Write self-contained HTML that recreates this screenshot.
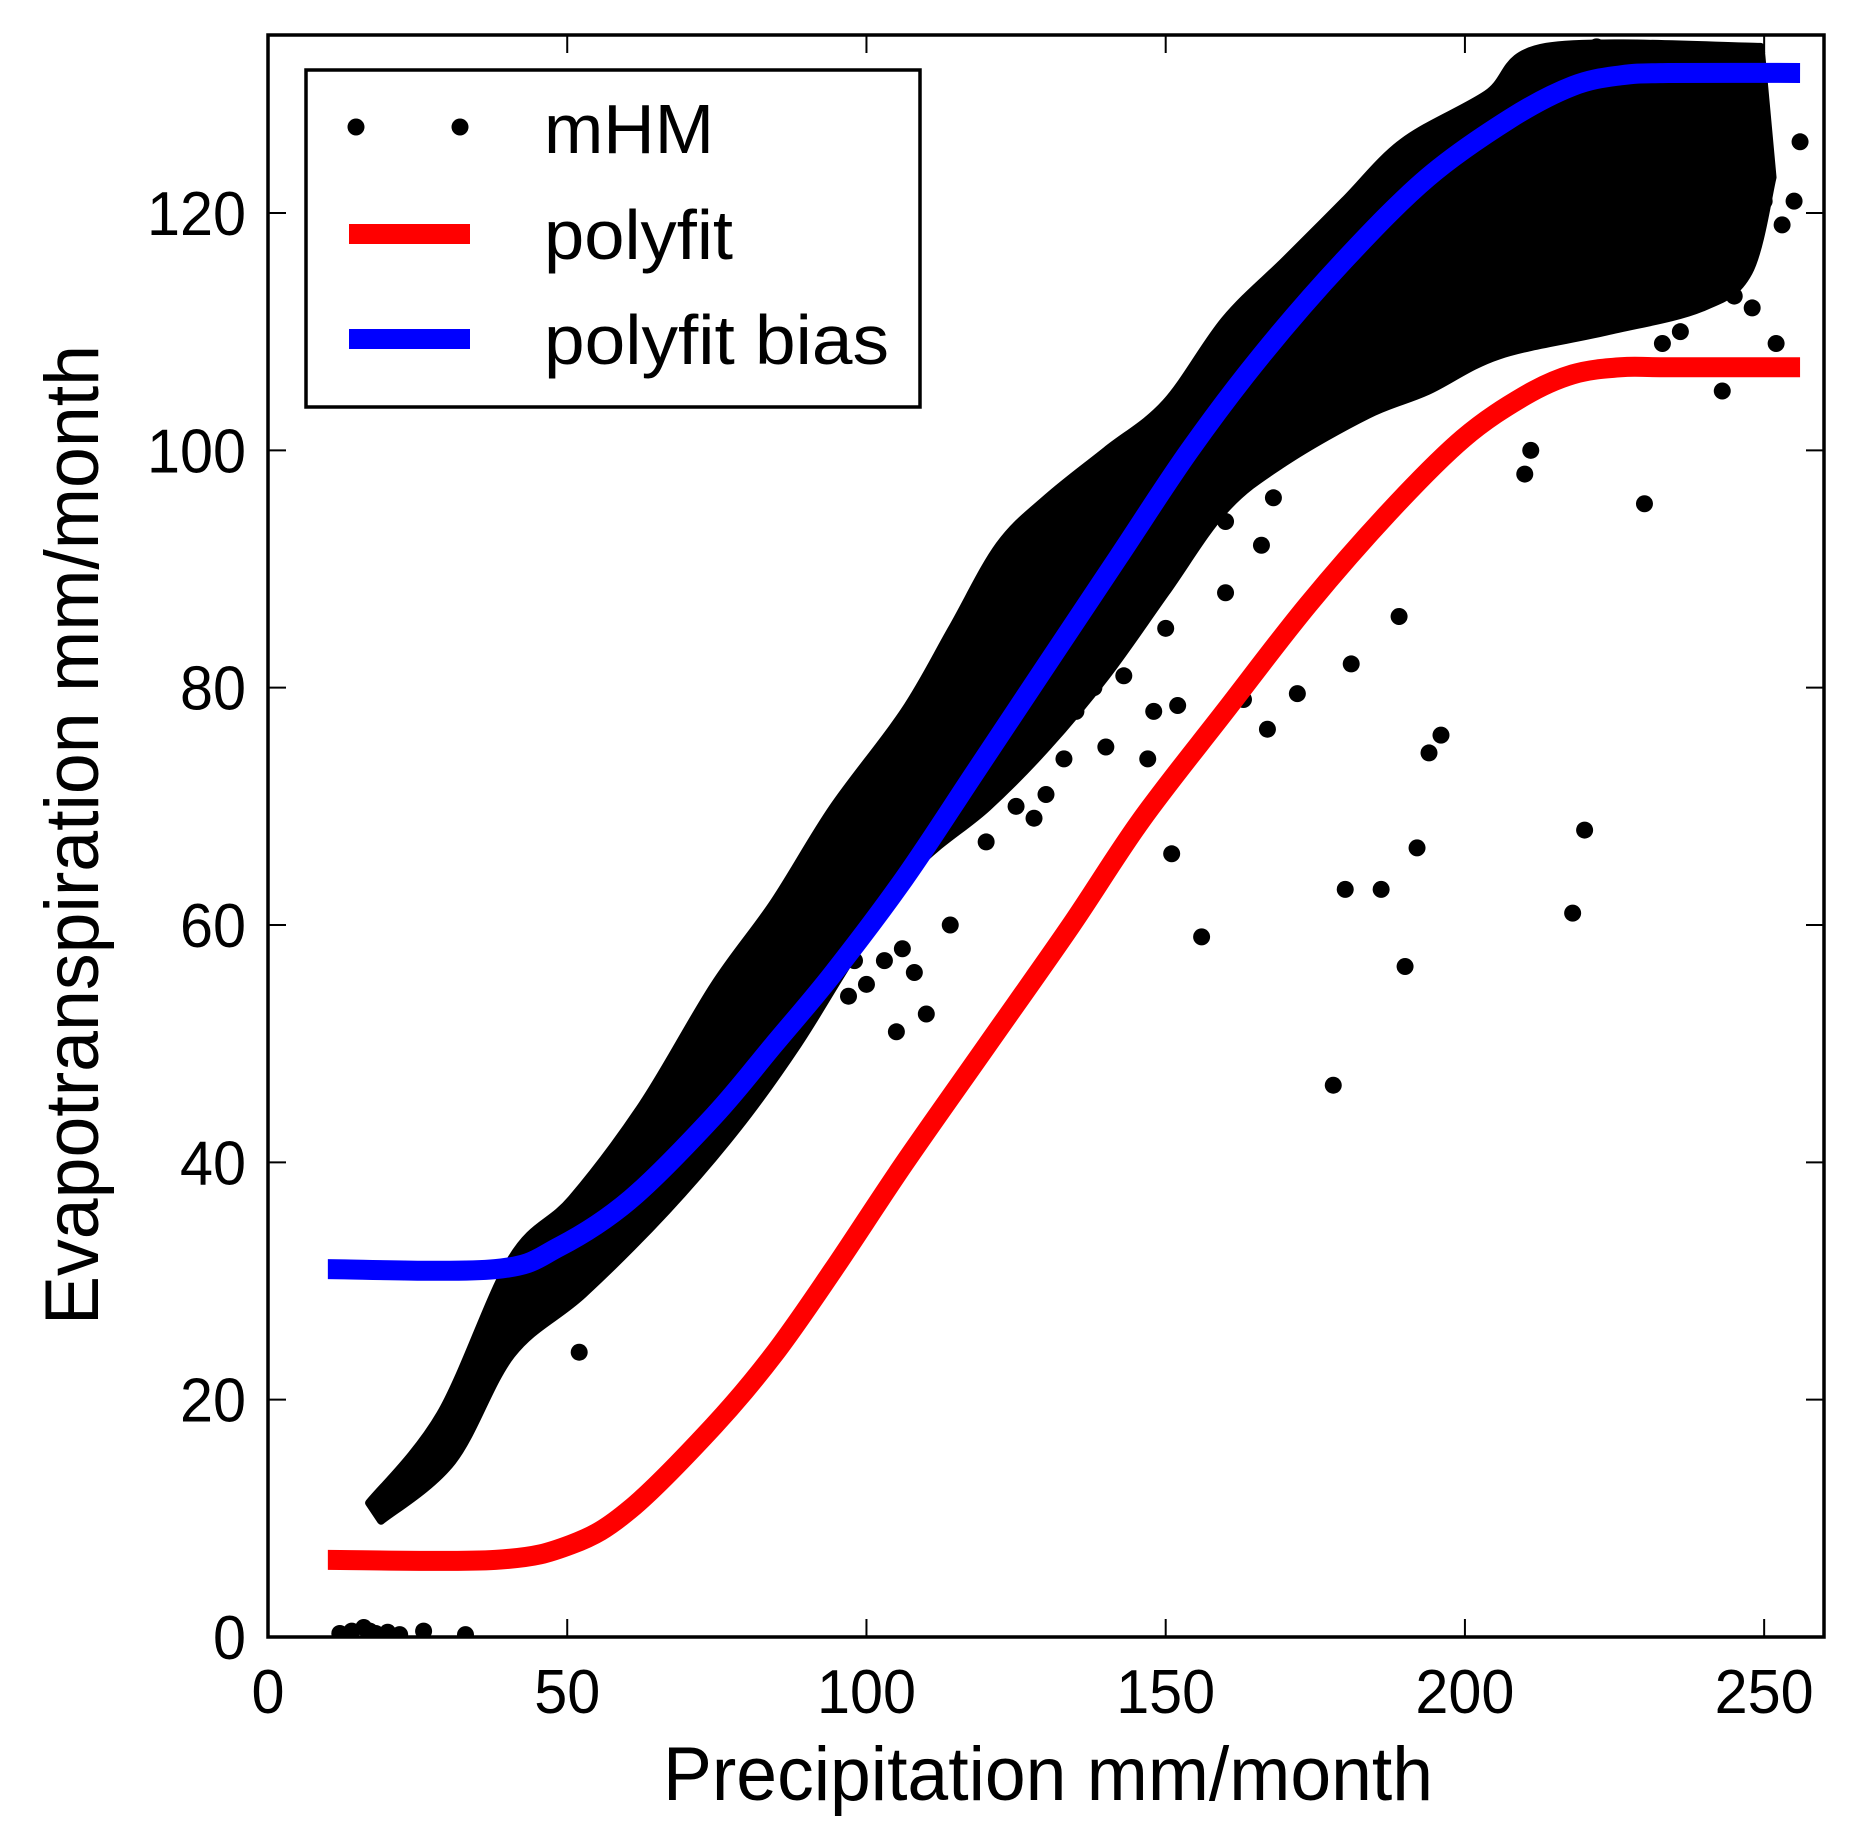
<!DOCTYPE html>
<html><head><meta charset="utf-8"><style>
html,body{margin:0;padding:0;background:#fff}
svg{display:block}
text{font-family:"Liberation Sans",Arial,sans-serif;fill:#000}
</style></head><body>
<svg id="chart" width="1862" height="1833" viewBox="0 0 1862 1833" xmlns="http://www.w3.org/2000/svg">
<g id="plot"></g>
</svg>
<script>
// ---- data ----
const xTicks = [0, 50, 100, 150, 200, 250];
const yTicks = [0, 20, 40, 60, 80, 100, 120];
const blueX = [10, 38, 48.7, 60.6, 74.5, 84.5, 94.4, 106.3, 118.2, 130.2, 142.1, 154, 166, 179.8, 193.8, 207.7, 218, 226, 234, 256];
const blueY = [31, 31, 32.9, 36.9, 43.9, 49.9, 55.9, 63.9, 72.9, 82, 91, 100, 108, 116, 123, 128, 130.7, 131.6, 131.8, 131.8];
const redX = [10, 38, 50.7, 60.6, 74.5, 84.5, 94.4, 106.3, 120.2, 134.1, 146, 159.9, 173.8, 187.7, 199.7, 210, 218, 226, 234, 256];
const redY = [6.5, 6.5, 7.8, 10.8, 17.8, 23.8, 30.9, 39.9, 49.9, 59.9, 68.9, 78, 87, 95, 101, 104.6, 106.4, 107, 107, 107];
// dense scatter cloud envelope
const upX = [16.9, 28.8, 40.7, 50.7, 62.6, 74.5, 84.5, 94.4, 106.3, 114.3, 122.2, 130.2, 140.1, 150, 159.9, 169.9, 179.8, 189.7, 203.6, 213.6, 249.4];
const upY = [11.3, 18.8, 31.9, 36.9, 44.9, 54.9, 61.9, 69.9, 78, 85, 92, 96, 100, 104, 111, 116, 121, 126, 130, 134, 134];
const loX = [18.9, 30.8, 40.7, 52.7, 66.6, 78.5, 88.5, 98.4, 108.3, 120.2, 130.2, 140.1, 150, 159.9, 169.9, 183.8, 193.8, 205.7, 223.6, 239.5, 247.4, 251.4];
const loY = [9.8, 14.8, 23.8, 28.9, 35.9, 42.9, 49.9, 57.9, 64.9, 69.9, 75, 81, 88, 95, 99, 103, 105, 108, 110, 112, 115, 123];
// individual scattered points
const ptX = [52,105,110,151,156,163,167,172,178,180,181,186,189,190,192,194,196,210,211,218,220,230,243,252,248,245,240,255,256,233,236,225,236,247,245,250,241,228,222,218,200,196,188,182,176,168,166,160,158,150,148,145,143,140,138,133,130,128,125,120,114,108,106,103,100,97,98,148,152,147,160,140,135,12,14,16,17,18,20,22,26,33,246,242,253,238,234,229,214,206];
const ptY = [24,51,52.5,66,59,79,76.5,79.5,46.5,63,82,63,86,56.5,66.5,74.5,76,98,100,61,68,95.5,105,109,112,113,117,121,126,109,110,111,114,125,133,121,127,133,134,133,109,110,108,105,102,96,92,94,100,85,89,93,81,83,80,74,71,69,70,67,60,56,58,57,55,54,57,78,78.5,74,88,75,78,0.3,0.5,0.8,0.5,0.3,0.4,0.2,0.5,0.2,120,115,119,114,118,112,116,113];

// ---- layout ----
const L = 268, R = 1824, T = 35, B = 1637;
const X0 = 0, X1 = 260, Y0 = 0, Y1 = 135;
const sx = v => L + (v - X0) / (X1 - X0) * (R - L);
const sy = v => B - (v - Y0) / (Y1 - Y0) * (B - T);
const NS = 'http://www.w3.org/2000/svg';
const plot = document.getElementById('plot');
function mk(tag, attrs, parent) {
  const e = document.createElementNS(NS, tag);
  for (const k in attrs) e.setAttribute(k, attrs[k]);
  (parent || plot).appendChild(e);
  return e;
}
function smoothSeg(P) {
  let d = '';
  for (let i = 0; i < P.length - 1; i++) {
    const p0 = P[Math.max(0, i - 1)], p1 = P[i], p2 = P[i + 1], p3 = P[Math.min(P.length - 1, i + 2)];
    const c1x = p1[0] + (p2[0] - p0[0]) / 6, c1y = p1[1] + (p2[1] - p0[1]) / 6;
    const c2x = p2[0] - (p3[0] - p1[0]) / 6, c2y = p2[1] - (p3[1] - p1[1]) / 6;
    d += ' C' + c1x + ',' + c1y + ' ' + c2x + ',' + c2y + ' ' + p2[0] + ',' + p2[1];
  }
  return d;
}
function smoothPath(P) { return 'M' + P[0][0] + ',' + P[0][1] + smoothSeg(P); }
const defs = mk('defs', {});
const cp = mk('clipPath', {id: 'clip'}, defs);
mk('rect', {x: L, y: T, width: R - L, height: B - T}, cp);
const data = mk('g', {'clip-path': 'url(#clip)'});



// scatter band
const up = upX.map((x, i) => [sx(x), sy(upY[i])]);
const lo = loX.map((x, i) => [sx(x), sy(loY[i])]).reverse();
const bd = smoothPath(up) + ' L' + lo[0][0] + ',' + lo[0][1] + smoothSeg(lo) + ' Z';
const band = mk('path', {d: bd, fill: '#000', stroke: '#000', 'stroke-width': 8, 'stroke-linejoin': 'round'}, data);


for (let i = 0; i < ptX.length; i++) {
  const c = mk('circle', {cx: sx(ptX[i]), cy: sy(ptY[i]), r: 8.5, fill: '#000'}, data);
  
  
}
function line(xs, ys, color, name) {
  const d = smoothPath(xs.map((x, i) => [sx(x), sy(ys[i])]));
  const p = mk('path', {d: d, fill: 'none', stroke: color, 'stroke-width': 20, 'stroke-linejoin': 'round'}, data);
  
  
}
line(redX, redY, '#ff0000', 'polyfit-line');
line(blueX, blueY, '#0000ff', 'polyfit-bias-line');

// ticks
xTicks.forEach(v => {
  const x = sx(v);
  mk('line', {x1: x, x2: x, y1: B, y2: B - 18, stroke: '#000', 'stroke-width': 2});
  mk('line', {x1: x, x2: x, y1: T, y2: T + 18, stroke: '#000', 'stroke-width': 2});
  const s = String(v);
  const t = mk('text', {x: x, y: B + 76, 'font-size': 62, 'text-anchor': 'middle', textLength: s.length * 33, lengthAdjust: 'spacingAndGlyphs'});
  t.textContent = s;
  
  
});
yTicks.forEach(v => {
  const y = sy(v);
  mk('line', {x1: L, x2: L + 18, y1: y, y2: y, stroke: '#000', 'stroke-width': 2});
  mk('line', {x1: R, x2: R - 18, y1: y, y2: y, stroke: '#000', 'stroke-width': 2});
  const s = String(v);
  const t = mk('text', {x: L - 22, y: y + 22, 'font-size': 62, 'text-anchor': 'end', textLength: s.length * 33, lengthAdjust: 'spacingAndGlyphs'});
  t.textContent = s;
  
  
});
const frame = mk('rect', {x: L, y: T, width: R - L, height: B - T, fill: 'none', stroke: '#000', 'stroke-width': 3.5});



const xl = mk('text', {x: 1048, y: 1800, 'font-size': 76, 'text-anchor': 'middle', textLength: 770, lengthAdjust: 'spacingAndGlyphs'});
xl.textContent = 'Precipitation mm/month';


const yl = mk('text', {x: 0, y: 0, 'font-size': 76, 'text-anchor': 'middle', transform: 'translate(98,835) rotate(-90)', textLength: 980, lengthAdjust: 'spacingAndGlyphs'});
yl.textContent = 'Evapotranspiration mm/month';



// legend
const lg = mk('g', {});


mk('rect', {x: 306, y: 70, width: 614, height: 337, fill: '#fff', stroke: '#000', 'stroke-width': 3.5}, lg);
mk('circle', {cx: 356, cy: 127, r: 8.5, fill: '#000'}, lg);
mk('circle', {cx: 460, cy: 127, r: 8.5, fill: '#000'}, lg);
mk('rect', {x: 349, y: 224, width: 121, height: 20, fill: '#ff0000'}, lg);
mk('rect', {x: 349, y: 329, width: 121, height: 20, fill: '#0000ff'}, lg);
[['mHM', 153, 170, 'legend-entry-mhm'], ['polyfit', 259, 189, 'legend-entry-polyfit'], ['polyfit bias', 364, 345, 'legend-entry-polyfit-bias']].forEach(a => {
  const t = mk('text', {x: 544, y: a[1], 'font-size': 70, textLength: a[2], lengthAdjust: 'spacingAndGlyphs'}, lg);
  t.textContent = a[0];
  
  
});
</script>
</body></html>
